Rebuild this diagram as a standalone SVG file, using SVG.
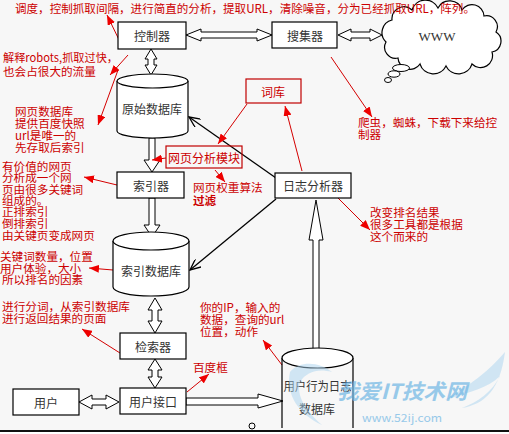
<svg xmlns="http://www.w3.org/2000/svg" width="509" height="434" viewBox="0 0 509 434">
<defs>
<style>
.box{fill:#ffffff;stroke:#000;stroke-width:1.2}
.rbox{fill:none;stroke:#c00000;stroke-width:1.2}
.cyl{fill:#ffffff;stroke:#000;stroke-width:1.2}
.ha{fill:#ffffff;stroke:#000;stroke-width:1}
.lbl{font-family:"Noto Sans CJK SC","Liberation Sans",sans-serif;font-size:12px;fill:#333;text-anchor:middle;dominant-baseline:central}
.rl{font-family:"Noto Sans CJK SC","Liberation Sans",sans-serif;font-size:11.6px;fill:#cc0000}
.rlc{font-family:"Noto Sans CJK SC","Liberation Sans",sans-serif;font-size:12px;fill:#cc0000;text-anchor:middle;dominant-baseline:central}
.rline{stroke:#d40000;stroke-width:1;fill:none;marker-end:url(#ra)}
.bline{stroke:#000;stroke-width:1.3;fill:none;marker-end:url(#ba)}
.wm{font-family:"Noto Sans CJK SC","Liberation Sans",sans-serif;fill:#6fb6e4;opacity:0.7}
</style>
<marker id="ra" viewBox="0 0 10 8" refX="10" refY="4" markerWidth="10" markerHeight="8" markerUnits="userSpaceOnUse" orient="auto">
<path d="M0,0 L10,4 L0,8 z" fill="#ee0000"/>
</marker>
<marker id="ba" viewBox="0 0 12 10" refX="11" refY="5" markerWidth="12" markerHeight="10" markerUnits="userSpaceOnUse" orient="auto">
<path d="M0,0 L11,5 L0,10" fill="none" stroke="#000" stroke-width="1.3"/>
</marker>
</defs>
<rect x="0" y="0" width="509" height="434" fill="#f7f7f7"/>
<rect x="0" y="430" width="509" height="2" fill="#111"/>
<rect x="0" y="432" width="509" height="2" fill="#ffffff"/>

<!-- connectors -->
<g id="connectors">
<polygon class="ha" points="186,35 201,29 201,32 257,32 257,29 272,35 257,41 257,38 201,38 201,41"/>
<polygon class="ha" points="338,35 351,29 351,32 370,32 370,29 382,35 370,41 370,38 351,38 351,41"/>
<polygon class="ha" points="151,49 157,59 154,59 154,65 157,65 151,75 145,65 148,65 148,59 145,59"/>
<polygon class="ha" points="149,138 155,138 155,160 160,160 152,172 144,160 149,160"/>
<polygon class="ha" points="149,198 155,198 155,225 160,225 152,237 144,225 149,225"/>
<polygon class="ha" points="155,298 162,310 158,310 158,321 162,321 155,333 148,321 152,321 152,310 148,310"/>
<polygon class="ha" points="155,359 162,370 158,370 158,377 162,377 155,388 148,377 152,377 152,370 148,370"/>
<polygon class="ha" points="79,402 92,395 92,399 106,399 106,395 119,402 106,409 106,405 92,405 92,409"/>
<polygon class="ha" points="186,398 258,398 258,394 283,401 258,408 258,405 186,405"/>
<polygon class="ha" points="313,358 313,240 309,240 316,200 323,240 319,240 319,358"/>
<line class="bline" x1="276" y1="178" x2="189" y2="117"/>
<line class="bline" x1="276" y1="199" x2="190" y2="270"/>
<line class="rline" x1="123" y1="48" x2="107" y2="15"/>
<line class="rline" x1="128" y1="55" x2="110" y2="75"/>
<line class="rline" x1="118" y1="70" x2="98" y2="125"/>
<line class="rline" x1="117" y1="185" x2="84" y2="177"/>
<line class="rline" x1="113" y1="270" x2="89" y2="268"/>
<line class="rline" x1="120" y1="353" x2="82" y2="329"/>
<line class="rline" x1="187" y1="392" x2="209" y2="374"/>
<line class="rline" x1="282" y1="365" x2="263" y2="340"/>
<line class="rline" x1="302" y1="171" x2="285" y2="106"/>
<line class="rline" x1="247" y1="104" x2="218" y2="144"/>
<line class="rline" x1="166" y1="158" x2="152" y2="160"/>
<line class="rline" x1="215" y1="170" x2="225" y2="182"/>
<line class="rline" x1="331" y1="57" x2="372" y2="117"/>
<line class="rline" x1="338" y1="198" x2="370" y2="230"/>
</g>

<!-- nodes -->
<g id="controller">
<rect class="box" x="118" y="22" width="68" height="27"/>
<text class="lbl" x="152" y="35.5">控制器</text>
</g>
<g id="collector">
<rect class="box" x="272" y="22" width="65" height="26"/>
<text class="lbl" x="305" y="35">搜集器</text>
</g>
<g id="www">
<path d="M386,42 A13,13 0 0,1 392,20 A12,12 0 0,1 412,10 A14,14 0 0,1 438,8 A13,13 0 0,1 462,10 A12,12 0 0,1 484,16 A11,11 0 0,1 496,32 A11,11 0 0,1 492,52 A12,12 0 0,1 472,64 A14,14 0 0,1 446,66 A14,14 0 0,1 420,64 A12,12 0 0,1 398,58 A11,11 0 0,1 386,42 z" fill="#ffffff" stroke="#000" stroke-width="1.2"/>
<ellipse cx="401" cy="68" rx="8.5" ry="3.5" fill="#ffffff" stroke="#000" stroke-width="1"/>
<ellipse cx="394" cy="74" rx="6" ry="3.2" fill="#ffffff" stroke="#000" stroke-width="1"/>
<ellipse cx="388" cy="80" rx="3.5" ry="2.5" fill="#ffffff" stroke="#000" stroke-width="1"/>
<text x="437" y="41" font-family="Liberation Serif,serif" font-size="13" fill="#333" text-anchor="middle">WWW</text>
</g>
<g id="raw-db">
<path class="cyl" d="M117,81 L117,131 A35.5,7 0 0,0 188,131 L188,81"/>
<ellipse class="cyl" cx="152.5" cy="81" rx="35.5" ry="7"/>
<text class="lbl" x="152" y="108">原始数据库</text>
</g>
<g id="lexicon">
<rect class="rbox" x="246" y="79" width="55" height="24"/>
<text class="rlc" x="273" y="91">词库</text>
</g>
<g id="page-analysis">
<rect class="rbox" x="166" y="146" width="76" height="22"/>
<text class="rlc" x="204" y="157">网页分析模块</text>
</g>
<g id="indexer">
<rect class="box" x="117" y="172" width="67" height="26"/>
<text class="lbl" x="151" y="185">索引器</text>
</g>
<g id="log-analyzer">
<rect class="box" x="275" y="173" width="76" height="25"/>
<text class="lbl" x="313" y="185.5">日志分析器</text>
</g>
<g id="index-db">
<path class="cyl" d="M113,241 L113,287 A38,9 0 0,0 189,287 L189,241"/>
<ellipse class="cyl" cx="151" cy="241" rx="38" ry="9"/>
<text class="lbl" x="151" y="270">索引数据库</text>
</g>
<g id="retriever">
<rect class="box" x="120" y="333" width="66" height="26"/>
<text class="lbl" x="153" y="346">检索器</text>
</g>
<g id="user-interface">
<rect class="box" x="120" y="388" width="66" height="26"/>
<text class="lbl" x="153" y="401">用户接口</text>
</g>
<g id="user">
<rect class="box" x="13" y="389" width="66" height="26"/>
<text class="lbl" x="46" y="402">用户</text>
</g>
<g id="user-log-db">
<path class="cyl" d="M282,358 L282,428 M353,358 L353,428"/>
<ellipse class="cyl" cx="317.5" cy="358" rx="35.5" ry="10"/>
<text class="lbl" x="317.5" y="385" textLength="68" lengthAdjust="spacingAndGlyphs">用户行为日志</text>
<text class="lbl" x="317" y="408">数据库</text>
</g>
<circle cx="252" cy="426" r="3" fill="none" stroke="#000" stroke-width="1"/>

<!-- annotations -->
<g id="annotations">
<text class="rl" x="15" y="12.5" textLength="460" lengthAdjust="spacingAndGlyphs">调度，控制抓取间隔，进行简直的分析，提取URL，清除噪音，分为已经抓取URL，阵列。</text>
<text class="rl" x="3" y="62" textLength="115" lengthAdjust="spacingAndGlyphs">解释robots,抓取过快，</text>
<text class="rl" x="3" y="76">也会占很大的流量</text>
<text class="rl" x="15" y="116">网页数据库</text>
<text class="rl" x="15" y="128">提供百度快照</text>
<text class="rl" x="15" y="140">url是唯一的</text>
<text class="rl" x="15" y="152">先存取后索引</text>
<text class="rl" x="2" y="171">有价值的网页</text>
<text class="rl" x="2" y="182">分析成一个网</text>
<text class="rl" x="2" y="194">页由很多关键词</text>
<text class="rl" x="2" y="205">组成的。</text>
<text class="rl" x="2" y="216">正排索引</text>
<text class="rl" x="2" y="228">倒排索引</text>
<text class="rl" x="2" y="240">由关键页变成网页</text>
<text class="rl" x="0" y="261">关键词数量，位置</text>
<text class="rl" x="0" y="273">用户体验，大小</text>
<text class="rl" x="2" y="284">所以排名的因素</text>
<text class="rl" x="2" y="311" textLength="128" lengthAdjust="spacingAndGlyphs">进行分词，从索引数据库</text>
<text class="rl" x="2" y="323">进行返回结果的页面</text>
<text class="rl" x="193" y="192">网页权重算法</text>
<text class="rl" x="193" y="205" font-weight="bold">过滤</text>
<text class="rl" x="200" y="312">你的IP，输入的</text>
<text class="rl" x="200" y="324">数据，查询的url</text>
<text class="rl" x="200" y="336">位置，动作</text>
<text class="rl" x="193" y="372">百度框</text>
<text class="rl" x="358" y="127">爬虫，蜘蛛，下载下来给控</text>
<text class="rl" x="358" y="139">制器</text>
<text class="rl" x="370" y="217">改变排名结果</text>
<text class="rl" x="370" y="229">很多工具都是根据</text>
<text class="rl" x="370" y="241">这个而来的</text>
</g>

<!-- watermark -->
<g id="watermark">
<path d="M290,372 C300,360 320,362 332,372 C318,368 306,372 300,382 C296,395 305,410 322,425 C300,415 285,395 290,372 z" fill="#a9d4f0" opacity="0.5"/>
<path d="M505,352 C490,370 470,385 445,400 C470,392 488,388 500,376 C492,392 478,402 462,408 C485,404 500,390 505,352 z" fill="#a9d4f0" opacity="0.5"/>
<text class="wm" x="337" y="399" font-size="21" font-weight="bold" font-style="italic" textLength="130" lengthAdjust="spacingAndGlyphs">我爱IT技术网</text>
<text class="wm" x="362" y="422" font-size="11" textLength="80" lengthAdjust="spacingAndGlyphs">www.52ij.com</text>
</g>
</svg>
